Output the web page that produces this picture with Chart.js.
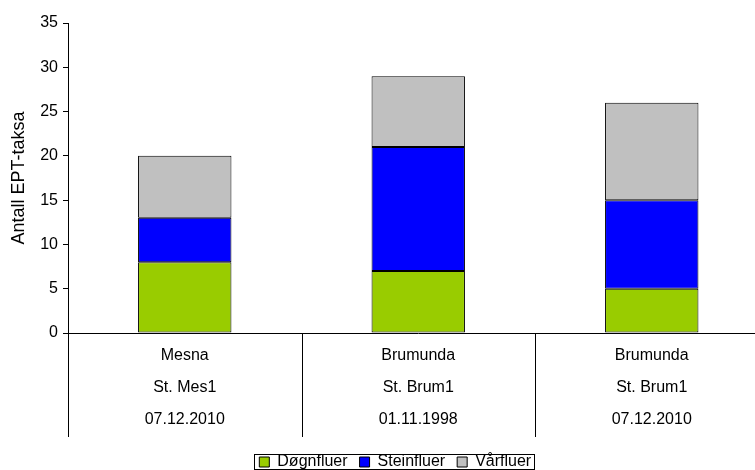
<!DOCTYPE html>
<html>
<head>
<meta charset="utf-8">
<script src="https://cdn.jsdelivr.net/npm/chart.js@4/dist/chart.umd.min.js"></script>
<style>
  html, body { margin: 0; padding: 0; background: #fff; overflow: hidden; }
  #wrap { width: 755px; height: 470px; overflow: hidden; position: relative; }
  canvas { display: block; }
</style>
</head>
<body>
<div id="wrap"><canvas id="c" width="790" height="470"></canvas></div>
<script>
// Sampling sites (river / station / date)
const categories = [
  ['Mesna', 'St. Mes1', '07.12.2010'],
  ['Brumunda', 'St. Brum1', '01.11.1998'],
  ['Brumunda', 'St. Brum1', '07.12.2010']
];
// Number of EPT taxa per group
const dognfluer = [8, 7, 5];
const steinfluer = [5, 14, 10];
const varfluer = [7, 8, 11];
const yTicks = [0, 5, 10, 15, 20, 25, 30, 35];

const FONT = 'Liberation Sans, Arial, sans-serif';
const PLOT_BOTTOM = 333;
const LEGEND_CENTER_Y = 462;
const LEGEND_SHIFT_X = 11;

// Vertical separators between categories, running down through the label area
const separators = {
  id: 'separators',
  afterDraw(chart) {
    const x = chart.scales.x;
    const ctx = chart.ctx;
    const half = (x.getPixelForTick(1) - x.getPixelForTick(0)) / 2;
    ctx.save();
    ctx.strokeStyle = '#000';
    ctx.lineWidth = 1;
    const top = chart.chartArea.bottom;
    const bottom = top + 104;
    ctx.beginPath();
    for (let i = 0; i < categories.length; i++) {
      const px = Math.round(x.getPixelForTick(i) - half) + 0.5;
      ctx.moveTo(px, top);
      ctx.lineTo(px, bottom);
    }
    ctx.stroke();
    ctx.restore();
  }
};

// Place the legend row and frame its entries
const legendFrame = {
  id: 'legendFrame',
  afterLayout(chart) {
    const lg = chart.legend;
    const pad = lg.options.labels.padding;
    const cy = lg.top + pad + lg.options.labels.font.size / 2;
    const dy = LEGEND_CENTER_Y - cy;
    lg.top += dy;
    lg.bottom += dy;
    lg.left += LEGEND_SHIFT_X;
    lg.right += LEGEND_SHIFT_X;
  },
  afterDraw(chart) {
    const lg = chart.legend;
    const boxes = lg.legendHitBoxes;
    if (!boxes || !boxes.length) return;
    const first = boxes[0];
    const last = boxes[boxes.length - 1];
    const x0 = Math.round(first.left - 5) + 0.5;
    const x1 = Math.round(last.left + last.width + 3) + 0.5;
    const y0 = LEGEND_CENTER_Y - 8 + 0.5;
    const y1 = LEGEND_CENTER_Y + 7 + 0.5;
    const ctx = chart.ctx;
    ctx.save();
    ctx.strokeStyle = '#000';
    ctx.lineWidth = 1;
    ctx.strokeRect(x0, y0, x1 - x0, y1 - y0);
    ctx.restore();
  }
};

const barStyle = {
  borderColor: '#000',
  borderWidth: 1,
  borderSkipped: false,
  barPercentage: 0.4,
  categoryPercentage: 1.0
};

new Chart(document.getElementById('c'), {
  type: 'bar',
  data: {
    labels: categories,
    datasets: [
      Object.assign({ label: 'Døgnfluer', data: dognfluer, backgroundColor: '#99CC00' }, barStyle),
      Object.assign({ label: 'Steinfluer', data: steinfluer, backgroundColor: '#0000FF' }, barStyle),
      Object.assign({ label: 'Vårfluer', data: varfluer, backgroundColor: '#C0C0C0' }, barStyle)
    ]
  },
  options: {
    responsive: false,
    animation: false,
    devicePixelRatio: 1,
    layout: { padding: { top: 23, right: 21.5, bottom: 0, left: 0 } },
    plugins: {
      tooltip: { enabled: false },
      legend: {
        position: 'bottom',
        labels: {
          color: '#000',
          font: { family: FONT, size: 16 },
          boxWidth: 10,
          boxHeight: 10,
          padding: 12,
          useBorderRadius: false
        }
      }
    },
    scales: {
      x: {
        stacked: true,
        offset: true,
        grid: { display: false, drawTicks: false },
        border: { display: true, color: '#000', width: 1 },
        ticks: {
          color: '#000',
          font: { family: FONT, size: 16, lineHeight: 32 / 16 },
          padding: 7,
          maxRotation: 0,
          autoSkip: false
        },
        afterFit(scale) {
          scale.height = 470 - PLOT_BOTTOM - scale.chart.legend.height;
        }
      },
      y: {
        stacked: true,
        min: 0,
        max: 35,
        afterBuildTicks(scale) { scale.ticks = yTicks.map(v => ({ value: v })); },
        grid: { display: true, drawOnChartArea: false, drawTicks: true, tickLength: 5, color: '#000' },
        border: { display: true, color: '#000', width: 1 },
        ticks: {
          color: '#000',
          font: { family: FONT, size: 16 },
          padding: 5
        },
        title: {
          display: true,
          text: 'Antall EPT-taksa',
          color: '#000',
          font: { family: FONT, size: 18 },
          padding: { top: 8, bottom: 0 }
        },
        afterFit(scale) { scale.width = 68; }
      }
    }
  },
  plugins: [separators, legendFrame]
});
</script>
</body>
</html>
